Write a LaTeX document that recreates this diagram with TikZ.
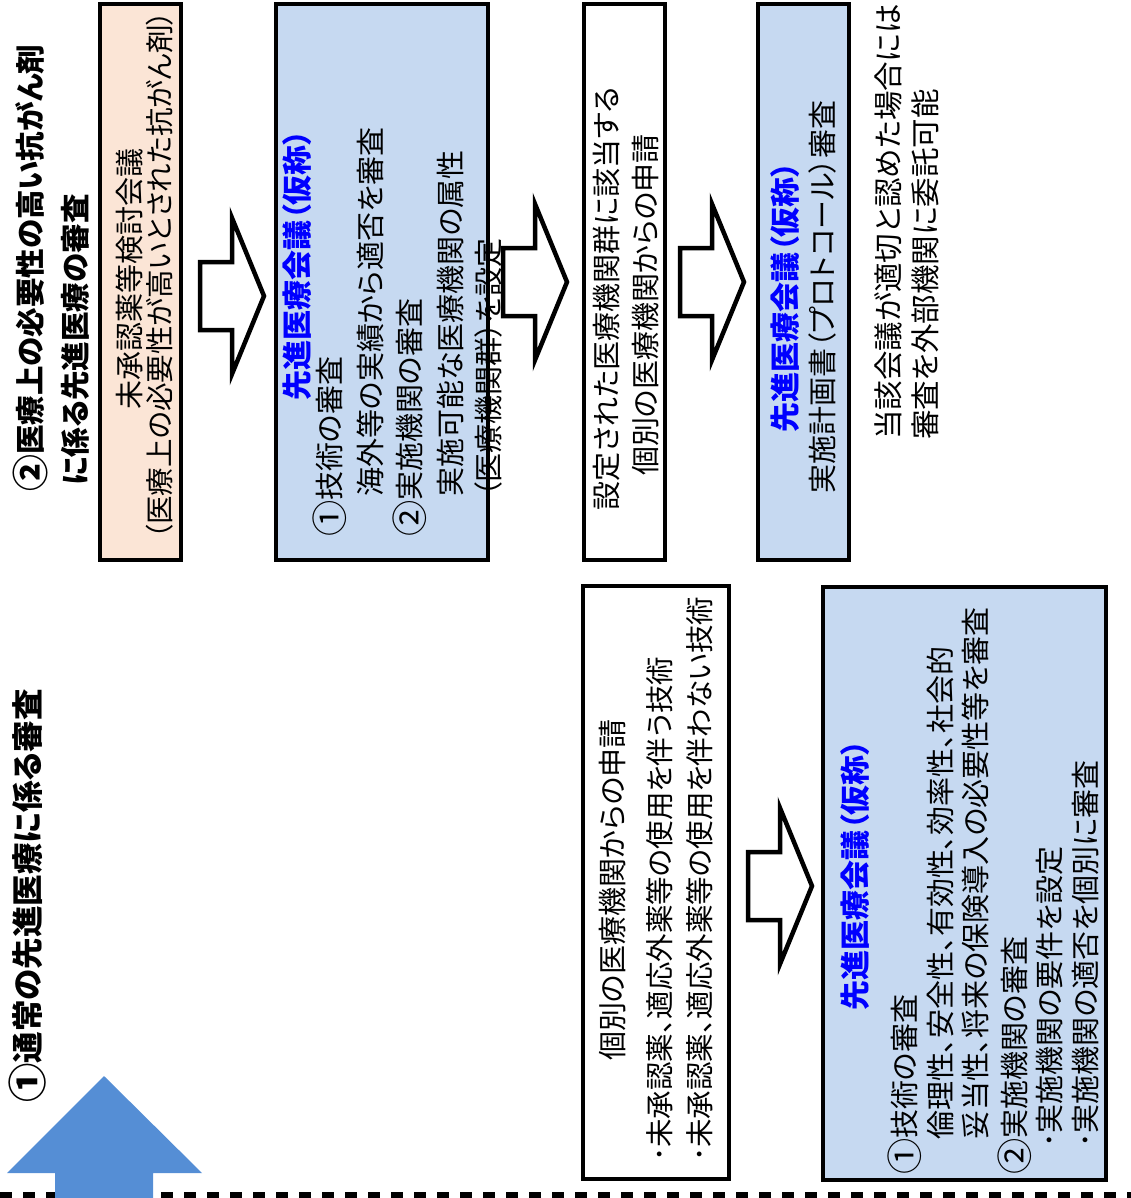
\documentclass[tikz,border=0pt]{standalone}
\usepackage{graphicx}
\usepackage{fontspec}
\setmainfont{Noto Sans CJK JP}[RawFeature=+palt]
\definecolor{peach}{RGB}{251,229,214}
\definecolor{paleblue}{RGB}{198,217,241}
\definecolor{arrowblue}{RGB}{85,142,213}
\definecolor{titleblue}{RGB}{0,0,255}
\newcommand{\cnum}[1]{\raisebox{-0.1em}{\scalebox{1.25}{#1}}}

\begin{document}
\begin{tikzpicture}[x=1pt,y=-1pt,
      box/.style={draw,line width=4.5pt,inner sep=0pt,outer sep=0pt},
      txt/.style={rotate=90,inner sep=0pt,font=\fontsize{29}{32}\selectfont},
      ttl/.style={txt,font=\fontsize{30}{32}\selectfont\bfseries,text=titleblue},
      head/.style={rotate=90,inner sep=0pt,anchor=west,font=\fontsize{29.5}{34}\selectfont\bfseries},
      hollow/.pic={\draw[line width=4.5pt,fill=white] (0,-34) -- (32,-34) -- (32,-78)
          -- (64,0) -- (32,78) -- (32,34) -- (0,34) -- cycle;}]

      \useasboundingbox (0,0) rectangle (1131,1198);

      % divider and the blue arrow
      \draw[line width=6pt,dash pattern=on 12pt off 11pt] (0,1195) -- (1131,1195);
      \fill[arrowblue] (104,1076) -- (202,1173) -- (153,1173) -- (153,1200)
          -- (55,1200) -- (55,1173) -- (7,1173) -- cycle;

      % headings
      \node[head] (head-A1) at (30,492) {\cnum{②}医療上の必要性の高い抗がん剤};
      \node[head] (head-A2) at (75,486) {に係る先進医療の審査};
      \node[head,font=\fontsize{31.5}{36}\selectfont\bfseries] (head-B) at (28,1103)
          {\cnum{①}通常の先進医療に係る審査};

      % upper row
      \node[box,fill=peach,minimum width=81pt,minimum height=556pt] (box-drug) at (140.5,282) {};
      \node[txt] (drug-1) at (130,279) {未承認薬等検討会議};
      \node[txt,font=\fontsize{28.5}{32}\selectfont] (drug-2) at (160,275)
          {（医療上の必要性が高いとされた抗がん剤）};

      \pic at (200,296) {hollow};

      \node[box,fill=paleblue,minimum width=212pt,minimum height=556pt] (box-council) at (382,282) {};
      \node[ttl] (council-0) at (297,265) {先進医療会議（仮称）};
      \node[txt,anchor=west] (council-1) at (330,537) {\cnum{①}技術の審査};
      \node[txt,anchor=west] (council-2) at (370,497) {海外等の実績から適否を審査};
      \node[txt,anchor=west] (council-3) at (410,537) {\cnum{②}実施機関の審査};
      \node[txt,anchor=west] (council-4) at (450,497) {実施可能な医療機関の属性};
      \node[txt,anchor=west] (council-5) at (488,497) {（医療機関群）を設定};

      \pic at (503,282) {hollow};

      \node[box,fill=white,minimum width=81pt,minimum height=556pt] (box-apply) at (624.5,282) {};
      \node[txt] (apply-1) at (607,299) {設定された医療機関群に該当する};
      \node[txt] (apply-2) at (645,305) {個別の医療機関からの申請};

      \pic at (680,282) {hollow};

      \node[box,fill=paleblue,minimum width=91pt,minimum height=556pt] (box-protocol) at (803.5,282) {};
      \node[ttl] (protocol-0) at (785,297) {先進医療会議（仮称）};
      \node[txt] (protocol-1) at (822,297) {実施計画書（プロトコール）審査};

      \node[txt,anchor=west,font=\fontsize{29.5}{32}\selectfont] (note-1) at (888,440)
          {当該会議が適切と認めた場合には};
      \node[txt,anchor=west,font=\fontsize{29.5}{32}\selectfont] (note-2) at (925,440)
          {審査を外部機関に委託可能};

      % lower row
      \node[box,fill=white,minimum width=146pt,minimum height=593pt] (box-request) at (656,882.5) {};
      \node[txt] (request-0) at (612,890) {個別の医療機関からの申請};
      \node[txt,anchor=west,font=\fontsize{28.5}{32}\selectfont] (request-1) at (660,1162)
          {･未承認薬、適応外薬等の使用を伴う技術};
      \node[txt,anchor=west,font=\fontsize{28.5}{32}\selectfont] (request-2) at (700,1162)
          {･未承認薬、適応外薬等の使用を伴わない技術};

      \pic at (748,886) {hollow};

      \node[box,fill=paleblue,minimum width=283pt,minimum height=593pt] (box-review) at (964.5,883.5) {};
      \node[ttl] (review-0) at (855,875) {先進医療会議（仮称）};
      \node[txt,anchor=west] (review-1) at (905,1175) {\cnum{①}技術の審査};
      \node[txt,anchor=west] (review-2) at (940,1140) {倫理性、安全性、有効性、効率性、社会的};
      \node[txt,anchor=west] (review-3) at (975,1140) {妥当性、将来の保険導入の必要性等を審査};
      \node[txt,anchor=west] (review-4) at (1015,1175) {\cnum{②}実施機関の審査};
      \node[txt,anchor=west] (review-5) at (1050,1148) {･実施機関の要件を設定};
      \node[txt,anchor=west] (review-6) at (1085,1148) {･実施機関の適否を個別に審査};
    \end{tikzpicture}
\end{document}
